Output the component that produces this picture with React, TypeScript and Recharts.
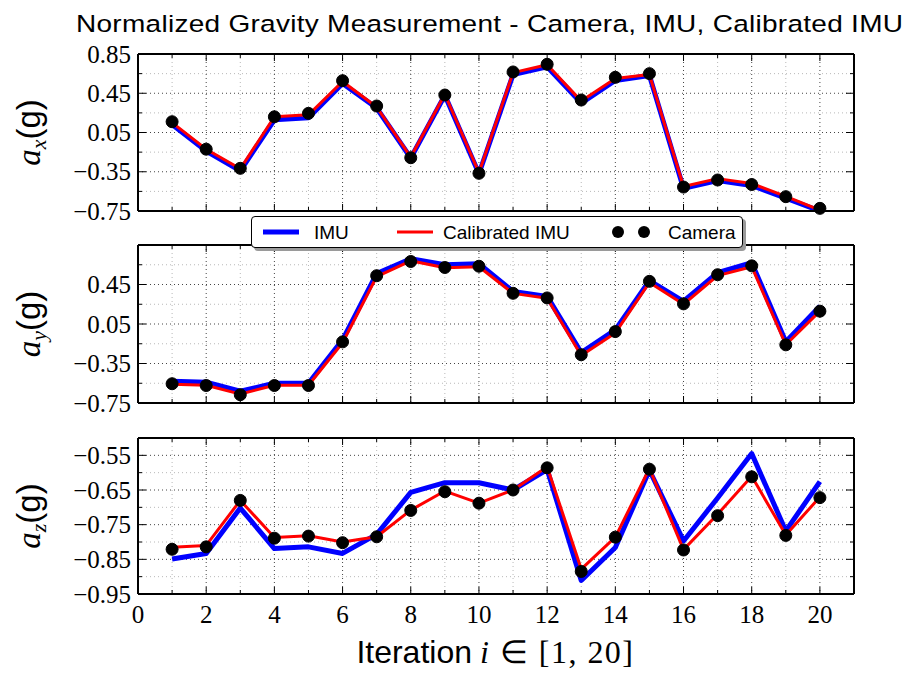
import React from "react";
import { LineChart, Line, XAxis, YAxis, CartesianGrid, Legend, Label } from "recharts";

// iteration index on the x axis
const iterations = [1, 2, 3, 4, 5, 6, 7, 8, 9, 10, 11, 12, 13, 14, 15, 16, 17, 18, 19, 20];

// normalized gravity, x component
const axImu = [0.13, -0.14, -0.34, 0.18, 0.2, 0.55, 0.3, -0.21, 0.43, -0.37, 0.64, 0.72, 0.35, 0.58, 0.63, -0.52, -0.44, -0.49, -0.62, -0.75];
const axCalibrated = [0.15, -0.12, -0.32, 0.21, 0.23, 0.57, 0.31, -0.2, 0.44, -0.36, 0.66, 0.74, 0.37, 0.6, 0.64, -0.5, -0.42, -0.47, -0.6, -0.74];
const axCamera = [0.16, -0.12, -0.315, 0.21, 0.245, 0.578, 0.32, -0.207, 0.432, -0.366, 0.667, 0.745, 0.381, 0.612, 0.65, -0.506, -0.434, -0.48, -0.604, -0.723];

// y component
const ayImu = [-0.53, -0.54, -0.63, -0.55, -0.55, -0.11, 0.56, 0.71, 0.65, 0.66, 0.38, 0.33, -0.24, -0.01, 0.49, 0.28, 0.57, 0.67, -0.13, 0.23];
const ayCalibrated = [-0.56, -0.57, -0.66, -0.57, -0.57, -0.14, 0.53, 0.69, 0.62, 0.63, 0.36, 0.31, -0.27, -0.04, 0.47, 0.25, 0.54, 0.63, -0.16, 0.18];
const ayCamera = [-0.555, -0.573, -0.666, -0.573, -0.573, -0.131, 0.539, 0.683, 0.622, 0.635, 0.361, 0.314, -0.261, -0.027, 0.482, 0.254, 0.549, 0.639, -0.161, 0.18];

// z component
const azImu = [-0.849, -0.833, -0.702, -0.819, -0.814, -0.833, -0.778, -0.657, -0.629, -0.629, -0.65, -0.591, -0.911, -0.816, -0.593, -0.797, -0.673, -0.545, -0.768, -0.626];
const azCalibrated = [-0.815, -0.81, -0.68, -0.787, -0.782, -0.8, -0.785, -0.708, -0.653, -0.688, -0.65, -0.583, -0.878, -0.786, -0.588, -0.822, -0.72, -0.61, -0.78, -0.67];
const azCamera = [-0.821, -0.814, -0.68, -0.789, -0.783, -0.802, -0.785, -0.709, -0.655, -0.688, -0.65, -0.586, -0.885, -0.786, -0.59, -0.823, -0.724, -0.612, -0.781, -0.672];

// ticks
const xTicks = [0, 1, 2, 3, 4, 5, 6, 7, 8, 9, 10, 11, 12, 13, 14, 15, 16, 17, 18, 19, 20, 21];
const xMajor = [0, 2, 4, 6, 8, 10, 12, 14, 16, 18, 20];
const xMinor = [1, 3, 5, 7, 9, 11, 13, 15, 17, 19];
const xyTicks = [-0.75, -0.55, -0.35, -0.15, 0.05, 0.25, 0.45, 0.65, 0.85];
const xyMajor = [-0.75, -0.35, 0.05, 0.45, 0.85];
const axLabels = [-0.75, -0.35, 0.05, 0.45, 0.85];
const ayLabels = [-0.75, -0.35, 0.05, 0.45];
const azTicks = [-0.95, -0.9, -0.85, -0.8, -0.75, -0.7, -0.65, -0.6, -0.55, -0.5];
const azMajor = [-0.95, -0.85, -0.75, -0.65, -0.55];
const azLabels = [-0.95, -0.85, -0.75, -0.65, -0.55];

const W = 921;
const H = 674;
const LEFT = 138;
const RIGHT = 854;
const SERIF = "'Liberation Serif', serif";
const SANS = "'Liberation Sans', Arial, sans-serif";

const near = (list: number[], v: number) => list.some((t) => Math.abs(t - v) < 1e-6);
const fmt = (v: number) => v.toFixed(2).replace("-", "\u2212");

const frameLine = { stroke: "#000", strokeWidth: 2 };

// bottom ticks also mirror a tick onto the top frame
const bottomTick = (showLabels: boolean, plotHeight: number) => (props: any) => {
  const { x, y, payload } = props;
  const v = payload.value;
  const len = near(xMajor, v) ? 7 : 4;
  const top = y - plotHeight;
  return (
    <g>
      <line x1={x} x2={x} y1={y} y2={y - len} stroke="#000" />
      <line x1={x} x2={x} y1={top} y2={top + len} stroke="#000" />
      {showLabels && near(xMajor, v) && (
        <text x={x} y={y + 29} textAnchor="middle" fontFamily={SERIF} fontSize={25} fill="#000">
          {v}
        </text>
      )}
    </g>
  );
};

// left ticks also mirror a tick onto the right frame
const leftTick = (majors: number[], labels: number[]) => (props: any) => {
  const { x, y, payload } = props;
  const v = payload.value;
  const len = near(majors, v) ? 8 : 4;
  const right = x + (RIGHT - LEFT);
  return (
    <g>
      <line x1={x} x2={x + len} y1={y} y2={y} stroke="#000" />
      <line x1={right} x2={right - len} y1={y} y2={y} stroke="#000" />
      {near(labels, v) && (
        <text x={x - 7} y={y + 8.5} textAnchor="end" fontFamily={SERIF} fontSize={25} fill="#000">
          {fmt(v)}
        </text>
      )}
    </g>
  );
};

const yTitle = (axis: string) => (props: any) => {
  const vb = props.viewBox;
  const cy = vb.y + vb.height / 2;
  return (
    <text transform={`translate(40 ${cy}) rotate(-90)`} x={0} y={0} textAnchor="middle" fontSize={33} fill="#000">
      <tspan fontFamily={SERIF} fontStyle="italic">a</tspan>
      <tspan fontFamily={SERIF} fontStyle="italic" fontSize={22} dy={6}>
        {axis}
      </tspan>
      <tspan fontFamily={SANS} dy={-6}>
        (g)
      </tspan>
    </text>
  );
};

const xTitle = (props: any) => {
  const vb = props.viewBox;
  const cx = vb.x + vb.width / 2;
  const y = vb.y + 69;
  return (
    <g>
      <text x={cx - 24} y={y} textAnchor="end" fontFamily={SANS} fontSize={32} fill="#000">
        Iteration
      </text>
      <text x={cx - 16} y={y} fontFamily={SERIF} fontSize={32} fill="#000" textLength={153} lengthAdjust="spacing">
        <tspan fontStyle="italic">i</tspan> ∈ [1, 20]
      </text>
    </g>
  );
};

const legendSlots: Record<string, { hx: number; tx: number }> = {
  imu: { hx: 11, tx: 62 },
  calibrated: { hx: 145, tx: 191 },
  camera: { hx: 360, tx: 416 },
};

const legendContent = (props: any) => {
  const items = props.payload ?? [];
  return (
    <div
      style={{
        width: 492,
        height: 32,
        border: "1px solid #000",
        borderRadius: 4,
        background: "#fff",
        boxShadow: "3px 3px 0 #9a9a9a",
        boxSizing: "border-box",
      }}
    >
      <svg width={490} height={30} style={{ display: "block" }}>
        {items.map((entry: any) => {
          const slot = legendSlots[entry.dataKey];
          if (!slot) return null;
          return (
            <g key={entry.dataKey}>
              {entry.dataKey === "camera" ? (
                <g>
                  <circle cx={slot.hx + 6} cy={15} r={6} fill="#000" />
                  <circle cx={slot.hx + 32} cy={15} r={6} fill="#000" />
                </g>
              ) : (
                <line
                  x1={slot.hx}
                  x2={slot.hx + 36}
                  y1={15}
                  y2={15}
                  stroke={entry.color}
                  strokeWidth={entry.payload?.strokeWidth ?? 3}
                />
              )}
              <text x={slot.tx} y={21.5} fontFamily={SANS} fontSize={19} fill="#000">
                {entry.value}
              </text>
            </g>
          );
        })}
      </svg>
    </div>
  );
};

type PanelProps = {
  imu: number[];
  calibrated: number[];
  camera: number[];
  domain: [number, number];
  ticks: number[];
  majors: number[];
  labels: number[];
  top: number;
  bottom: number;
  axis: string;
  showX: boolean;
  showLegend: boolean;
};

function Panel(p: PanelProps) {
  const data = iterations.map((it, i) => ({
    it,
    imu: p.imu[i],
    calibrated: p.calibrated[i],
    camera: p.camera[i],
  }));
  const [lo, hi] = p.domain;
  const inside = (v: number) => v > lo + 1e-6 && v < hi - 1e-6;
  const majorGrid = p.majors.filter(inside);
  const minorGrid = p.ticks.filter((v) => inside(v) && !near(p.majors, v));

  return (
    <div style={{ position: "absolute", left: 0, top: 0 }}>
      <LineChart
        width={W}
        height={H}
        data={data}
        margin={{ top: p.top - 10, bottom: H - p.bottom - 40, left: LEFT - 100, right: W - RIGHT - 10 }}
      >
        <CartesianGrid
          xAxisId="b"
          yAxisId="l"
          horizontalValues={minorGrid}
          verticalValues={xMinor}
          stroke="#b8b8b8"
          strokeDasharray="1 3"
        />
        <CartesianGrid
          xAxisId="b"
          yAxisId="l"
          horizontalValues={majorGrid}
          verticalValues={xMajor.filter((v) => v > 0)}
          stroke="#444"
          strokeDasharray="1 3"
        />
        <XAxis
          xAxisId="b"
          dataKey="it"
          type="number"
          domain={[0, 21]}
          ticks={xTicks}
          interval={0}
          orientation="bottom"
          height={40}
          tickSize={0}
          tickMargin={0}
          tickLine={false}
          axisLine={frameLine}
          tick={bottomTick(p.showX, p.bottom - p.top)}
        >
          {p.showX && <Label content={xTitle} />}
        </XAxis>
        <XAxis
          xAxisId="t"
          type="number"
          domain={[0, 21]}
          orientation="top"
          height={10}
          tick={false}
          tickLine={false}
          axisLine={frameLine}
        />
        <YAxis
          yAxisId="l"
          type="number"
          domain={p.domain}
          ticks={p.ticks}
          interval={0}
          width={100}
          tickSize={0}
          tickMargin={0}
          tickLine={false}
          axisLine={frameLine}
          tick={leftTick(p.majors, p.labels)}
        >
          <Label content={yTitle(p.axis)} />
        </YAxis>
        <YAxis
          yAxisId="r"
          orientation="right"
          type="number"
          domain={p.domain}
          width={10}
          tick={false}
          tickLine={false}
          axisLine={frameLine}
        />
        <Line
          xAxisId="b"
          yAxisId="l"
          name="IMU"
          dataKey="imu"
          stroke="#0000ff"
          strokeWidth={5}
          strokeLinejoin="round"
          dot={false}
          activeDot={false}
          isAnimationActive={false}
        />
        <Line
          xAxisId="b"
          yAxisId="l"
          name="Calibrated IMU"
          dataKey="calibrated"
          stroke="#ff0000"
          strokeWidth={3}
          strokeLinejoin="round"
          dot={false}
          activeDot={false}
          isAnimationActive={false}
        />
        <Line
          xAxisId="b"
          yAxisId="l"
          name="Camera"
          dataKey="camera"
          stroke="none"
          dot={{ r: 6, fill: "#000", stroke: "#000", strokeWidth: 1 }}
          activeDot={false}
          isAnimationActive={false}
        />
        {p.showLegend && (
          <Legend
            layout="horizontal"
            verticalAlign="middle"
            align="center"
            width={492}
            height={32}
            wrapperStyle={{ left: 251, top: 216, width: 492, height: 32 }}
            content={legendContent}
          />
        )}
      </LineChart>
    </div>
  );
}

export default function App() {
  return (
    <div style={{ position: "absolute", left: 0, top: 0, width: W, height: H, background: "#fff" }}>
      <Panel
        imu={axImu}
        calibrated={axCalibrated}
        camera={axCamera}
        domain={[-0.75, 0.85]}
        ticks={xyTicks}
        majors={xyMajor}
        labels={axLabels}
        top={54}
        bottom={211}
        axis="x"
        showX={false}
        showLegend={false}
      />
      <Panel
        imu={azImu}
        calibrated={azCalibrated}
        camera={azCamera}
        domain={[-0.95, -0.5]}
        ticks={azTicks}
        majors={azMajor}
        labels={azLabels}
        top={438}
        bottom={594}
        axis="z"
        showX={true}
        showLegend={false}
      />
      <Panel
        imu={ayImu}
        calibrated={ayCalibrated}
        camera={ayCamera}
        domain={[-0.75, 0.85]}
        ticks={xyTicks}
        majors={xyMajor}
        labels={ayLabels}
        top={245}
        bottom={403}
        axis="y"
        showX={false}
        showLegend={true}
      />
      <svg width={W} height={H} style={{ position: "absolute", left: 0, top: 0, pointerEvents: "none" }}>
        <text
          transform="translate(489.5 32) scale(1 0.87)"
          x={0}
          y={0}
          textAnchor="middle"
          fontFamily={SANS}
          fontSize={28}
          fill="#000"
          textLength={827}
          lengthAdjust="spacing"
        >
          Normalized Gravity Measurement - Camera, IMU, Calibrated IMU
        </text>
      </svg>
    </div>
  );
}
